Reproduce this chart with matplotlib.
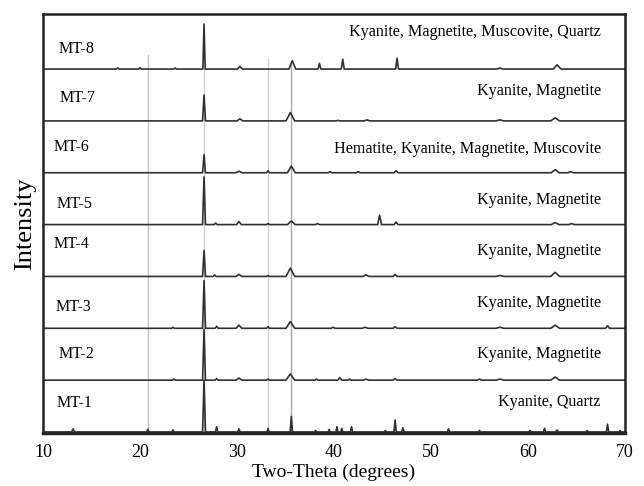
import numpy as np
import matplotlib
matplotlib.use("Agg")
import matplotlib.pyplot as plt

plt.rcParams["font.family"] = ["Liberation Serif", "DejaVu Serif"]

# peak lists per sample: (2-theta, relative intensity, half base width)
mt1 = [(13.1, 0.06, 0.15), (20.8, 0.05, 0.12), (23.4, 0.04, 0.12), (26.6, 1.00, 0.15),
       (27.9, 0.10, 0.12), (30.2, 0.06, 0.12), (33.2, 0.07, 0.10), (35.6, 0.30, 0.12),
       (38.1, 0.03, 0.12), (39.5, 0.05, 0.10), (40.3, 0.10, 0.10), (40.8, 0.07, 0.10),
       (41.8, 0.10, 0.12), (45.3, 0.03, 0.10), (46.3, 0.23, 0.12), (47.1, 0.08, 0.12),
       (51.8, 0.06, 0.12), (55.0, 0.03, 0.12), (60.2, 0.03, 0.12), (61.7, 0.07, 0.12),
       (63.0, 0.04, 0.15), (66.1, 0.03, 0.12), (68.2, 0.15, 0.12), (69.5, 0.03, 0.10)]
mt2 = [(23.5, 0.02, 0.15), (26.6, 0.98, 0.15), (27.9, 0.03, 0.15), (30.2, 0.04, 0.30),
       (33.2, 0.02, 0.15), (35.5, 0.12, 0.45), (38.2, 0.02, 0.15), (40.6, 0.05, 0.20),
       (41.6, 0.02, 0.15), (43.3, 0.02, 0.30), (46.3, 0.03, 0.20), (55.0, 0.02, 0.20),
       (57.1, 0.02, 0.40), (62.8, 0.06, 0.45)]
mt3 = [(23.4, 0.02, 0.15), (26.6, 0.92, 0.15), (27.9, 0.04, 0.15), (30.2, 0.06, 0.30),
       (33.2, 0.03, 0.15), (35.5, 0.13, 0.45), (39.9, 0.02, 0.20), (43.2, 0.02, 0.30),
       (46.3, 0.03, 0.20), (57.1, 0.02, 0.40), (62.8, 0.06, 0.45), (68.2, 0.05, 0.20)]
mt4 = [(26.6, 0.50, 0.15), (27.7, 0.03, 0.15), (30.2, 0.04, 0.30), (33.2, 0.02, 0.15),
       (35.5, 0.16, 0.45), (43.3, 0.03, 0.30), (46.3, 0.04, 0.20), (57.1, 0.02, 0.40),
       (62.8, 0.08, 0.45)]
mt5 = [(26.6, 0.92, 0.15), (27.8, 0.03, 0.15), (30.2, 0.06, 0.25), (33.2, 0.02, 0.15),
       (35.6, 0.07, 0.40), (38.3, 0.02, 0.20), (44.7, 0.18, 0.20), (46.4, 0.05, 0.20),
       (62.8, 0.04, 0.40), (64.5, 0.02, 0.30)]
mt6 = [(26.6, 0.35, 0.15), (30.2, 0.03, 0.30), (33.2, 0.04, 0.15), (35.6, 0.13, 0.40),
       (39.6, 0.02, 0.20), (42.5, 0.02, 0.20), (46.4, 0.04, 0.20), (62.8, 0.06, 0.40),
       (64.4, 0.02, 0.30)]
mt7 = [(26.6, 0.50, 0.15), (30.3, 0.04, 0.30), (35.5, 0.16, 0.45), (40.4, 0.01, 0.20),
       (43.4, 0.02, 0.30), (57.1, 0.02, 0.40), (62.8, 0.06, 0.45)]
mt8 = [(17.7, 0.02, 0.15), (20.0, 0.03, 0.12), (23.6, 0.02, 0.15), (26.6, 0.87, 0.12),
       (30.3, 0.05, 0.25), (35.7, 0.16, 0.35), (38.5, 0.11, 0.15), (40.9, 0.19, 0.15),
       (46.5, 0.21, 0.15), (57.1, 0.02, 0.30), (63.0, 0.08, 0.40)]

samples = ["MT-1", "MT-2", "MT-3", "MT-4", "MT-5", "MT-6", "MT-7", "MT-8"]
phases = ["Kyanite, Quartz", "Kyanite, Magnetite", "Kyanite, Magnetite", "Kyanite, Magnetite",
          "Kyanite, Magnetite", "Hematite, Kyanite, Magnetite, Muscovite",
          "Kyanite, Magnetite", "Kyanite, Magnetite, Muscovite, Quartz"]
patterns = [mt1, mt2, mt3, mt4, mt5, mt6, mt7, mt8]

# reference lines (2-theta, top of line, colour)
ref_lines = [(20.8, 7.27, "#c4c4c4"), (26.6, 7.0, "#cfcfcf"), (33.2, 7.2, "#cfcfcf"), (35.6, 7.1, "#a8a8a8")]

name_x = [11.4, 11.6, 11.3, 11.1, 11.4, 11.1, 11.7, 11.6]
name_dy = [0.56, 0.50, 0.42, 0.62, 0.40, 0.50, 0.44, 0.38]
phase_dy = [0.58, 0.50, 0.48, 0.50, 0.48, 0.46, 0.58, 0.71]


def trace(peaks):
    xs, ys = [10.0], [0.0]
    for p, h, w in sorted(peaks):
        xs += [p - w, p, p + w]
        ys += [0.0, h, 0.0]
    xs.append(70.0)
    ys.append(0.0)
    return np.array(xs), np.array(ys)


fig = plt.figure(figsize=(6.44, 4.86), dpi=100)
ax = fig.add_axes([0.0668, 0.109, 0.9037, 0.862])

for x, top, c in ref_lines:
    ax.plot([x, x], [-0.05, top], color=c, lw=1.0, zorder=1)

for i, pk in enumerate(patterns):
    xs, ys = trace(pk)
    ax.plot(xs, ys + i, color="#303030", lw=1.2, zorder=2)
    ax.text(name_x[i], i + name_dy[i], samples[i], fontsize=11.5, va="center", ha="left")
    ax.text(67.5, i + phase_dy[i], phases[i], fontsize=11.6, va="center", ha="right")

ax.set_xlim(10, 70)
ax.set_ylim(-0.02, 8.06)
ax.set_xticks([10, 20, 30, 40, 50, 60, 70])
ax.set_yticks([])
ax.tick_params(axis="x", length=0, labelsize=13, pad=8)
for s in ax.spines.values():
    s.set_linewidth(1.8)
    s.set_color("#222222")
ax.spines["bottom"].set_linewidth(2.5)

ax.set_xlabel("Two-Theta (degrees)", fontsize=14, labelpad=2)
ax.set_ylabel("Intensity", fontsize=19, labelpad=5)

fig.savefig("out.png", dpi=100)
